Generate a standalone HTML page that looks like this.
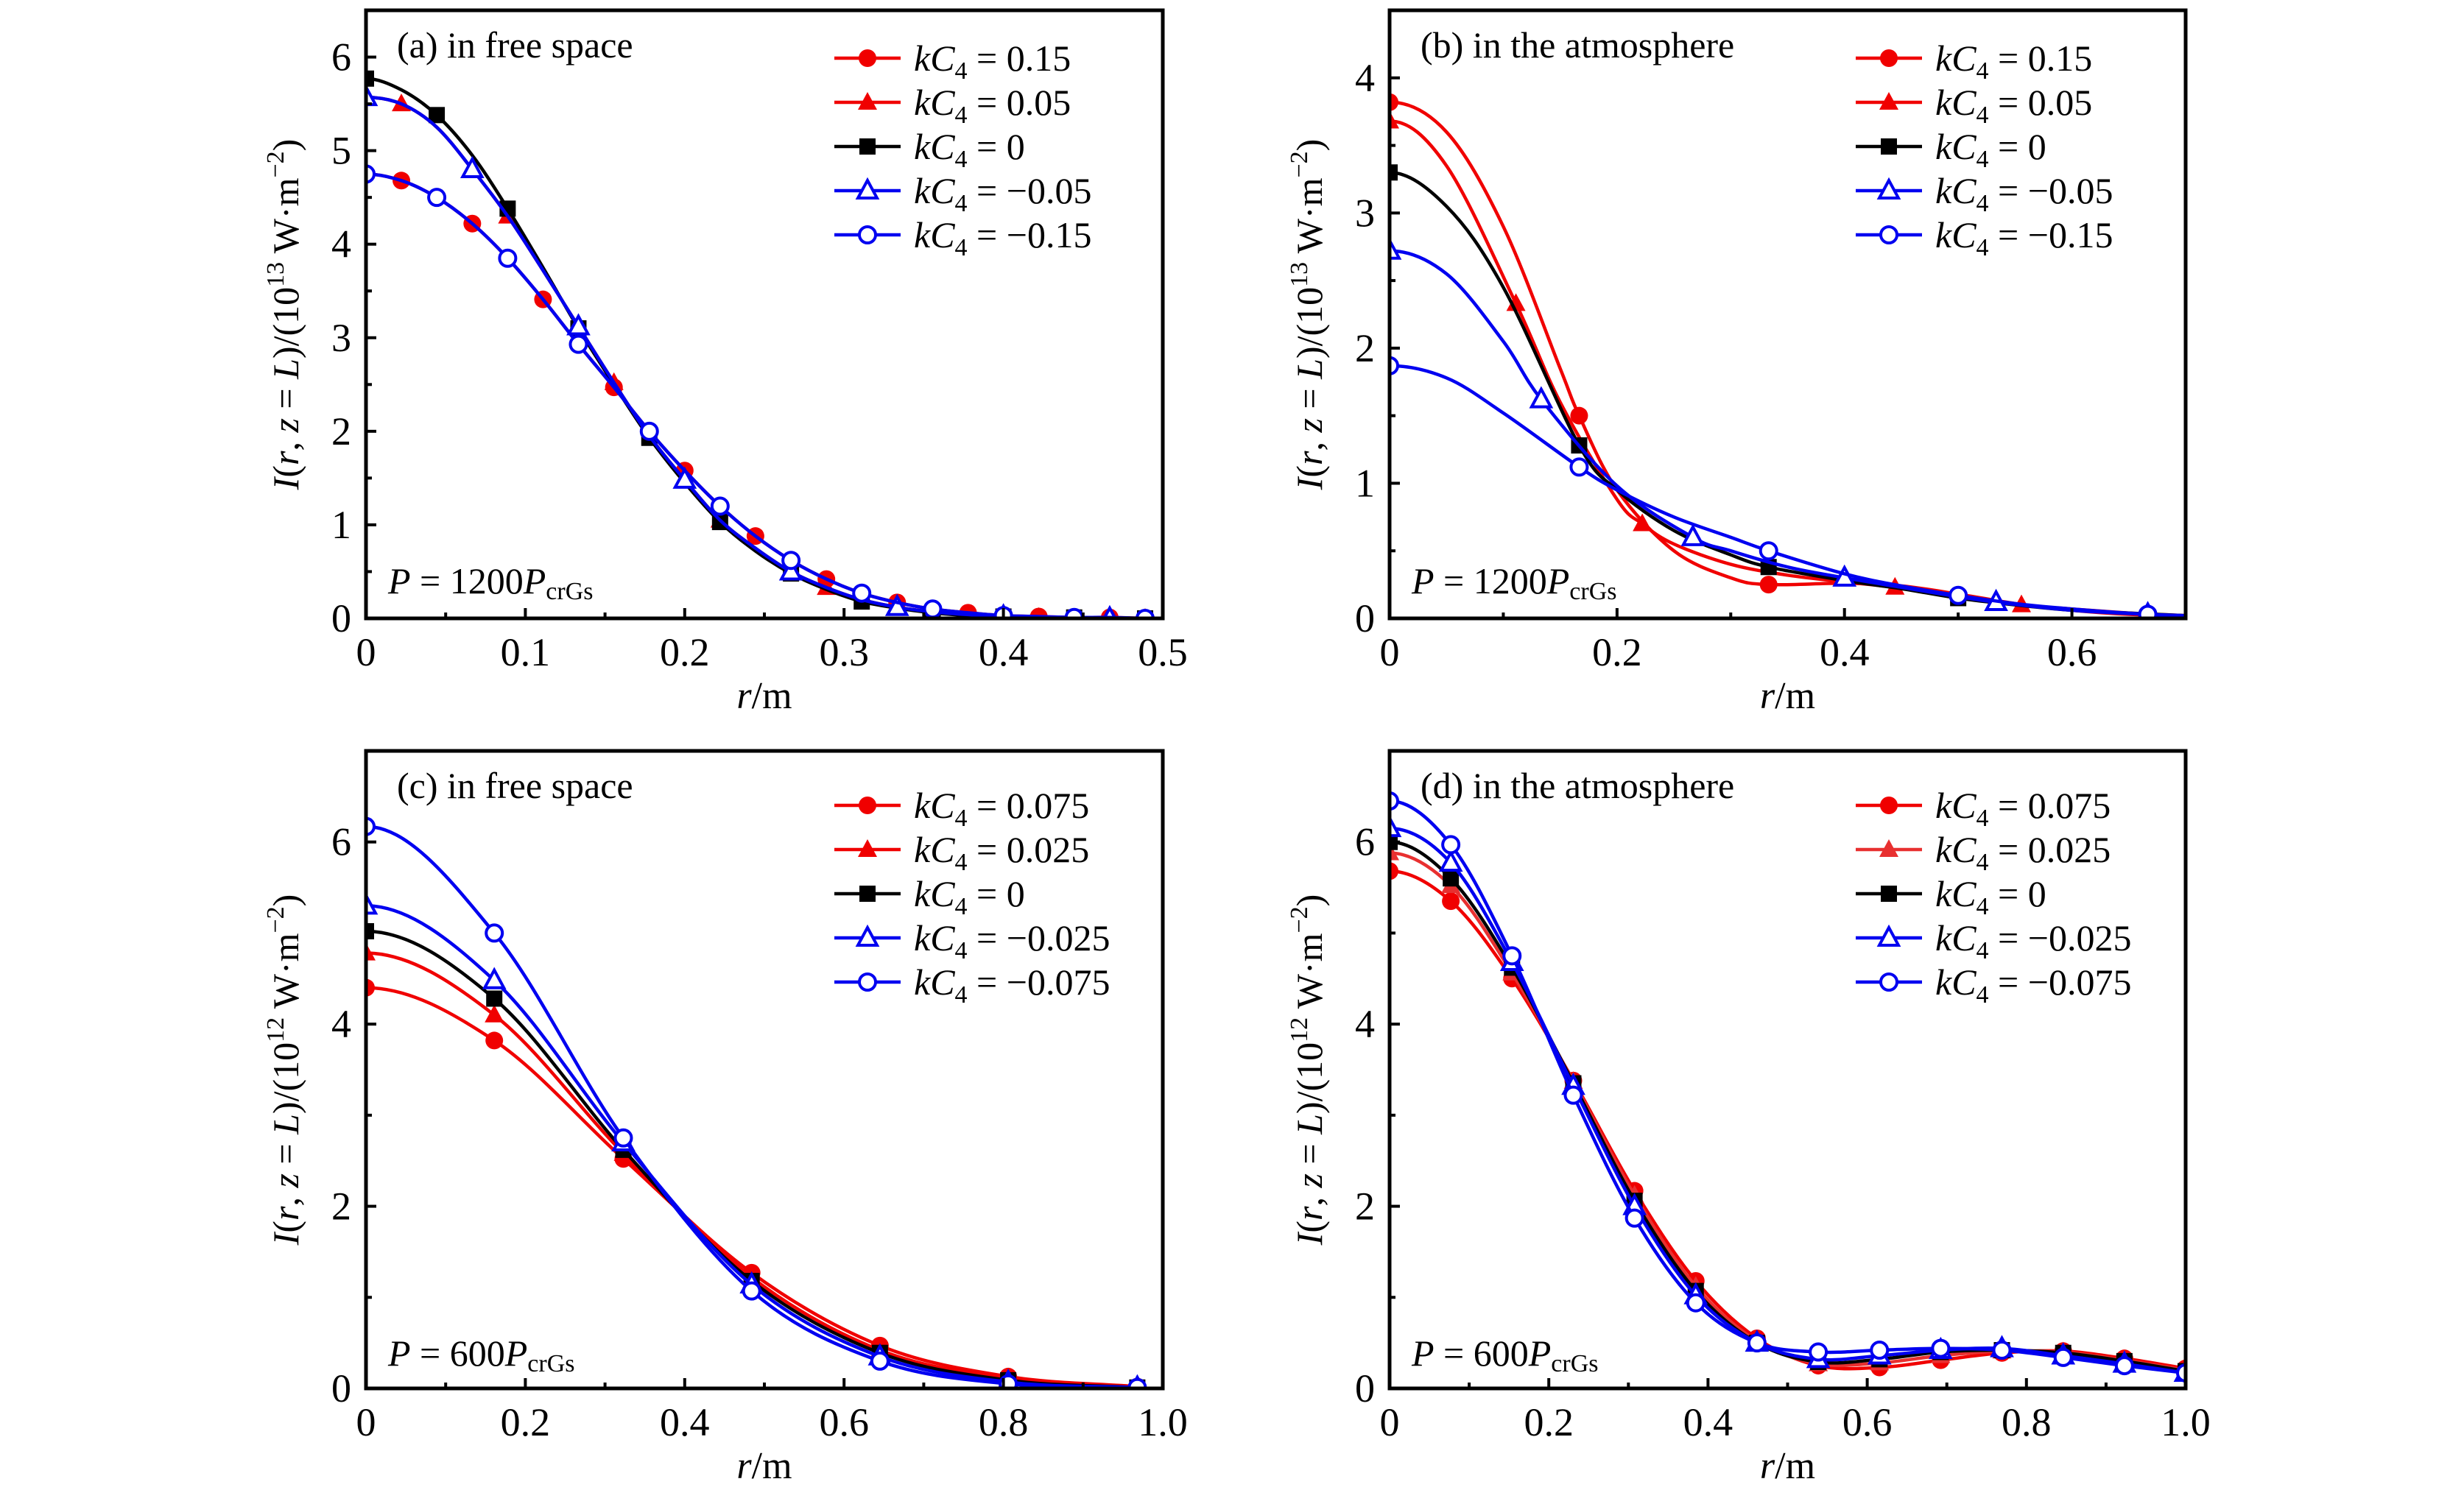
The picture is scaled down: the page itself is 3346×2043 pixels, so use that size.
<!DOCTYPE html>
<html><head><meta charset="utf-8"><style>
html,body{margin:0;padding:0;background:#fff}
svg{display:block}
text{font-family:"Liberation Serif",serif;fill:#000}
</style></head><body>
<svg id="fig" xmlns="http://www.w3.org/2000/svg" width="3346" height="2043" viewBox="0 0 3346 2043"></svg>
<script>
// ---------- data ----------
const aX = [0,0.0222,0.0444,0.0667,0.0889,0.1111,0.1333,0.1556,0.1778,0.2,0.2222,0.2444,0.2667,0.2889,0.3111,0.3333,0.3556,0.3778,0.4,0.4222,0.4444,0.4667,0.4889];
const aY015 = [4.75,4.68,4.5,4.22,3.85,3.41,2.93,2.47,2.0,1.58,1.2,0.88,0.62,0.42,0.27,0.17,0.10,0.06,0.03,0.02,0.01,0.01,0.0];
const aY005 = [5.57,5.5,5.25,4.8,4.3,3.72,3.12,2.52,1.95,1.48,1.05,0.75,0.5,0.33,0.2,0.12,0.07,0.04,0.02,0.01,0.01,0,0];
const aY0   = [5.77,5.65,5.38,4.95,4.38,3.75,3.1,2.5,1.93,1.45,1.03,0.72,0.48,0.31,0.18,0.11,0.06,0.03,0.02,0.01,0.01,0,0];
const aYm005= [5.57,5.5,5.25,4.8,4.3,3.72,3.12,2.52,1.95,1.48,1.05,0.75,0.5,0.33,0.2,0.12,0.07,0.04,0.02,0.01,0.01,0,0];
const aYm015= [4.75,4.68,4.5,4.22,3.85,3.41,2.93,2.47,2.0,1.58,1.2,0.88,0.62,0.42,0.27,0.17,0.10,0.06,0.03,0.02,0.01,0.01,0.0];
const bX015 = [0,0.05,0.1,0.15,0.1667,0.2,0.25,0.3,0.3333,0.4,0.45,0.5,0.55,0.6,0.65,0.7];
const bY015 = [3.82,3.6,2.9,1.85,1.5,0.95,0.5,0.3,0.25,0.26,0.24,0.18,0.11,0.06,0.03,0.02];
const bM015 = [0,0.1667,0.3333];
const bX005 = [0,0.05,0.1111,0.15,0.2,0.2222,0.25,0.3,0.35,0.4,0.4444,0.5,0.5556,0.6,0.65,0.7];
const bY005 = [3.68,3.35,2.33,1.6,0.88,0.7,0.55,0.4,0.32,0.27,0.23,0.17,0.1,0.07,0.04,0.02];
const bM005 = [0,0.1111,0.2222,0.4444,0.5556];
const bX0   = [0,0.05,0.1,0.1667,0.2,0.25,0.3,0.3333,0.4,0.45,0.5,0.55,0.6,0.65,0.7];
const bY0   = [3.3,3.05,2.45,1.28,0.95,0.65,0.47,0.38,0.28,0.22,0.15,0.1,0.06,0.04,0.02];
const bM0   = [0,0.1667,0.3333,0.5];
const bXm005= [0,0.05,0.1,0.1333,0.2,0.2667,0.3,0.35,0.4,0.45,0.5,0.5333,0.6,0.6667,0.7];
const bYm005= [2.72,2.55,2.05,1.62,0.98,0.6,0.5,0.38,0.3,0.23,0.16,0.12,0.06,0.03,0.02];
const bMm005= [0,0.1333,0.2667,0.4,0.5333,0.6667];
const bXm015= [0,0.05,0.1,0.1667,0.2,0.25,0.3,0.3333,0.4,0.45,0.5,0.55,0.6,0.6667,0.7];
const bYm015= [1.87,1.78,1.52,1.12,0.95,0.75,0.6,0.5,0.33,0.24,0.17,0.11,0.07,0.03,0.02];
const bMm015= [0,0.1667,0.3333,0.5,0.6667];
const cX = [0,0.161,0.323,0.484,0.645,0.806,0.968];
const cY0075 = [4.4,3.82,2.52,1.27,0.47,0.13,0.02];
const cY0025 = [4.78,4.1,2.58,1.22,0.42,0.11,0.02];
const cY0    = [5.02,4.28,2.62,1.18,0.39,0.09,0.01];
const cYm0025= [5.3,4.48,2.7,1.14,0.35,0.07,0.01];
const cYm0075= [6.17,5.0,2.75,1.07,0.3,0.05,0.01];
const dX = [0,0.0769,0.1538,0.2308,0.3077,0.3846,0.4615,0.5385,0.6154,0.6923,0.7692,0.8462,0.9231,1.0];
const dY0075 = [5.68,5.35,4.5,3.38,2.17,1.18,0.55,0.25,0.23,0.31,0.39,0.41,0.33,0.22];
const dY0025 = [5.88,5.52,4.56,3.37,2.12,1.12,0.52,0.27,0.28,0.36,0.41,0.4,0.31,0.2];
const dY0    = [6.0,5.6,4.62,3.35,2.06,1.07,0.5,0.29,0.32,0.4,0.42,0.39,0.3,0.19];
const dYm0025= [6.15,5.77,4.68,3.32,2.0,1.02,0.5,0.32,0.36,0.42,0.44,0.36,0.27,0.17];
const dYm0075= [6.45,5.97,4.75,3.22,1.87,0.94,0.5,0.4,0.42,0.44,0.42,0.34,0.25,0.17];
const aXTicks = ["0","0.1","0.2","0.3","0.4","0.5"];
const aYTicks = ["0","1","2","3","4","5","6"];
const bXTicks = ["0","0.2","0.4","0.6"];
const bYTicks = ["0","1","2","3","4"];
const cdXTicks = ["0","0.2","0.4","0.6","0.8","1.0"];
const cdYTicks = ["0","2","4","6"];
const legA = ["0.15","0.05","0","\u22120.05","\u22120.15"];
const legC = ["0.075","0.025","0","\u22120.025","\u22120.075"];

// ---------- drawing ----------
const NS="http://www.w3.org/2000/svg";
const svg=document.getElementById('fig');
function mk(tag,attrs,parent){const e=document.createElementNS(NS,tag);for(const k in attrs)e.setAttribute(k,attrs[k]);(parent||svg).appendChild(e);return e;}
const RED="#f00000", RED2="#e83030", BLUE="#0000f0", BLACK="#000";
const styles=[{c:RED,m:'circle',f:true},{c:RED,m:'tri',f:true},{c:BLACK,m:'sq',f:true},{c:BLUE,m:'tri',f:false},{c:BLUE,m:'circle',f:false}];

function panel(id,L,T,R,B,xmax,ymax,xt,xtStep,xMinor,yt,ytStep,yMinor,series,title,legVals,legX,legY0,pLabel,pY,exp){
  const g=mk('g',{});
  
  
  const sx=v=>L+(R-L)*v/xmax, sy=v=>B-(B-T)*v/ymax;
  const cp=mk('clipPath',{id:'clip'+id},g);
  mk('rect',{x:L,y:T,width:R-L,height:B-T},cp);
  const curves=mk('g',{'clip-path':'url(#clip'+id+')'},g);
  series.forEach((s,si)=>{
    const st=styles[si];
    const pts=s.x.map((x,i)=>[sx(x),sy(s.y[i])]);
    const ext=[[2*pts[0][0]-pts[1][0],pts[1][1]],...pts,[2*pts[pts.length-1][0]-pts[pts.length-2][0],pts[pts.length-1][1]+(pts[pts.length-1][1]-pts[pts.length-2][1])]];
    let d='M'+pts[0][0].toFixed(1)+','+pts[0][1].toFixed(1);
    for(let i=1;i<ext.length-2;i++){
      const p0=ext[i-1],p1=ext[i],p2=ext[i+1],p3=ext[i+2];
      const c1=[p1[0]+(p2[0]-p0[0])/6,p1[1]+(p2[1]-p0[1])/6];
      const c2=[p2[0]-(p3[0]-p1[0])/6,p2[1]-(p3[1]-p1[1])/6];
      d+=' C'+c1[0].toFixed(1)+','+c1[1].toFixed(1)+' '+c2[0].toFixed(1)+','+c2[1].toFixed(1)+' '+p2[0].toFixed(1)+','+p2[1].toFixed(1);
    }
    const col=(id==='d'&&si===1)?RED2:st.c;
    const path=mk('path',{d:d,fill:'none',stroke:col,'stroke-width':4.5},curves);
    
    
    s.mi.forEach(i=>{
      const m=marker(curves,st,sx(s.x[i]),sy(s.y[i]),col);
      
      
    });
  });
  const fr=mk('rect',{x:L,y:T,width:R-L,height:B-T,fill:'none',stroke:'#000','stroke-width':5},g);
  
  
  for(let v=0;v<=xmax+1e-9;v+=xMinor){
    const major=Math.abs(v/xtStep-Math.round(v/xtStep))<1e-6;
    mk('line',{x1:sx(v),x2:sx(v),y1:B,y2:B-(major?14:8),stroke:'#000','stroke-width':4},g);
  }
  xt.forEach((t,i)=>{const e=mk('text',{x:sx(i*xtStep),y:B+64,'font-size':54,'text-anchor':'middle'},g);e.textContent=t;
    });
  for(let v=0;v<=ymax+1e-9;v+=yMinor){
    const major=Math.abs(v/ytStep-Math.round(v/ytStep))<1e-6;
    mk('line',{x1:L,x2:L+(major?14:8),y1:sy(v),y2:sy(v),stroke:'#000','stroke-width':4},g);
  }
  yt.forEach((t,i)=>{const e=mk('text',{x:L-20,y:sy(i*ytStep)+18,'font-size':54,'text-anchor':'end'},g);e.textContent=t;
    });
  const xtl=mk('text',{x:(L+R)/2,y:B+122,'font-size':52,'text-anchor':'middle'},g);
  xtl.innerHTML='<tspan font-style="italic">r</tspan>/m';
  
  const yx=L-92, yc=(T+B)/2;
  const ytl=mk('text',{x:yx,y:yc,'font-size':50,'text-anchor':'middle',transform:'rotate(-90 '+yx+' '+yc+')'},g);
  ytl.innerHTML='<tspan font-style="italic">I</tspan>(<tspan font-style="italic">r</tspan>, <tspan font-style="italic">z</tspan> = <tspan font-style="italic">L</tspan>)/(10<tspan font-size="34" dy="-20">'+exp+'</tspan><tspan dy="20"> W·m</tspan><tspan font-size="34" dy="-20">−2</tspan><tspan dy="20">)</tspan>';
  
  const tt=mk('text',{x:L+42,y:T+64,'font-size':50},g);tt.textContent=title;
  
  const pl=mk('text',{x:L+30,y:pY,'font-size':50},g);
  pl.innerHTML='<tspan font-style="italic">P</tspan> = '+pLabel+'<tspan font-style="italic">P</tspan><tspan font-size="34" dy="8">crGs</tspan>';
  
  legVals.forEach((v,i)=>{
    const st=styles[i];const y=legY0+i*60;
    const col=(id==='d'&&i===1)?RED2:st.c;
    const lg=mk('g',{},g);
    
    
    mk('line',{x1:legX,x2:legX+90,y1:y,y2:y,stroke:col,'stroke-width':4.5},lg);
    marker(lg,st,legX+45,y,col);
    const t=mk('text',{x:legX+108,y:y+17,'font-size':50},lg);
    t.innerHTML='<tspan font-style="italic">kC</tspan><tspan font-size="34" dy="11">4</tspan><tspan dy="-11"> = '+v+'</tspan>';
  });
}
function marker(parent,st,x,y,col){
  const fill=st.f?col:'#fff';
  if(st.m==='circle') return mk('circle',{cx:x,cy:y,r:st.f?12:11,fill:fill,stroke:col,'stroke-width':st.f?0:4},parent);
  if(st.m==='sq') return mk('rect',{x:x-11,y:y-11,width:22,height:22,fill:fill},parent);
  return mk('polygon',{points:`${x},${y-14} ${x+13},${y+10} ${x-13},${y+10}`,fill:fill,stroke:col,'stroke-width':st.f?0:4},parent);
}
function idx(n,stride,off){const r=[];for(let i=off;i<n;i+=stride)r.push(i);return r;}
function mIdx(xs,ms){return ms.map(m=>xs.findIndex(x=>Math.abs(x-m)<1e-6)).filter(i=>i>=0);}
const all=n=>idx(n,1,0);

panel('a',497,14,1579,840,0.5,6.5,aXTicks,0.1,0.05,aYTicks,1,0.5,[
  {x:aX,y:aY015,mi:idx(23,2,1)},
  {x:aX,y:aY005,mi:idx(23,3,1)},
  {x:aX,y:aY0,mi:idx(23,2,0)},
  {x:aX,y:aYm005,mi:idx(23,3,0)},
  {x:aX,y:aYm015,mi:idx(23,2,0)}],
  '(a) in free space',legA,1133,79,'1200',806,'13');
panel('b',1887,14,2968,840,0.7,4.5,bXTicks,0.2,0.1,bYTicks,1,0.5,[
  {x:bX015,y:bY015,mi:mIdx(bX015,bM015)},
  {x:bX005,y:bY005,mi:mIdx(bX005,bM005)},
  {x:bX0,y:bY0,mi:mIdx(bX0,bM0)},
  {x:bXm005,y:bYm005,mi:mIdx(bXm005,bMm005)},
  {x:bXm015,y:bYm015,mi:mIdx(bXm015,bMm015)}],
  '(b) in the atmosphere',legA,2520,79,'1200',806,'13');
panel('c',497,1020,1579,1886,1.0,7,cdXTicks,0.2,0.1,cdYTicks,2,1,[
  {x:cX,y:cY0075,mi:all(7)},{x:cX,y:cY0025,mi:all(7)},{x:cX,y:cY0,mi:all(7)},{x:cX,y:cYm0025,mi:all(7)},{x:cX,y:cYm0075,mi:all(7)}],
  '(c) in free space',legC,1133,1094,'600',1855,'12');
panel('d',1887,1020,2968,1886,1.0,7,cdXTicks,0.2,0.1,cdYTicks,2,1,[
  {x:dX,y:dY0075,mi:all(14)},{x:dX,y:dY0025,mi:all(14)},{x:dX,y:dY0,mi:all(14)},{x:dX,y:dYm0025,mi:all(14)},{x:dX,y:dYm0075,mi:all(14)}],
  '(d) in the atmosphere',legC,2520,1094,'600',1855,'12');
</script>
</body></html>
